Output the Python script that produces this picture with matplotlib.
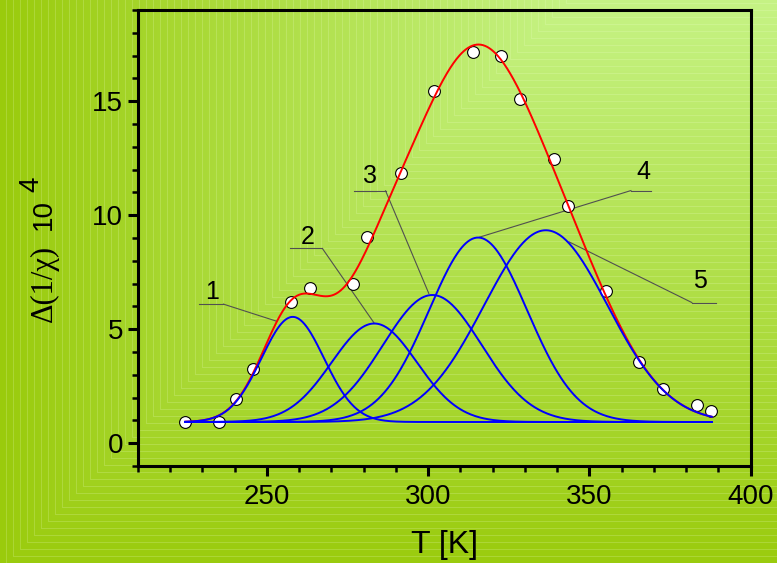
import numpy as np
import matplotlib
matplotlib.use('Agg')
import matplotlib.pyplot as plt
from matplotlib.ticker import MultipleLocator
from matplotlib.transforms import IdentityTransform

# 实验点 (T, Δ(1/χ)·10^4)
t_points = [224.7, 235.0, 240.3, 245.6, 257.4, 263.3, 276.6, 281.0, 291.5, 301.7,
            313.9, 322.6, 328.5, 339.0, 343.4, 355.2, 365.5, 372.9, 383.5, 387.8]
y_points = [0.92, 0.92, 1.93, 3.25, 6.18, 6.80, 6.97, 9.05, 11.83, 15.44,
            17.15, 17.00, 15.10, 12.45, 10.40, 6.67, 3.55, 2.37, 1.67, 1.40]

# 五个高斯分量
baseline = 0.93
centers = [258.0, 283.3, 301.3, 315.5, 336.5]
amps = [4.61, 4.32, 5.57, 8.09, 8.41]
widths = [9.7, 13.2, 15.3, 15.2, 19.2]
t_start, t_end = 224.7, 388.0

# 标注 1-5
label_names = ['1', '2', '3', '4', '5']
label_x = [232.9, 262.6, 282.1, 366.9, 384.3]
label_y = [6.62, 9.04, 11.71, 11.89, 7.12]
shelf_x0 = [228.8, 257.1, 277.0, 362.9, 381.8]
shelf_x1 = [236.5, 267.2, 286.8, 369.1, 389.3]
shelf_y = [6.10, 8.54, 11.07, 11.08, 6.17]
joint_x = [236.5, 267.2, 286.8, 362.9, 381.8]
tip_x = [253.0, 283.2, 300.2, 316.0, 343.7]
tip_y = [5.35, 5.28, 6.57, 9.04, 8.83]

W, H = 777, 563
fig = plt.figure(figsize=(W / 100, H / 100), dpi=100)

# 背景: 矩形渐变 + 浅色条纹
yy, xx = np.mgrid[0:H, 0:W] + 0.5
d = np.maximum(np.abs(xx - 777), np.abs(yy + 207))
t = np.clip((d - 207) / (777 - 207), 0, 1)[..., None]
light = np.array([198, 243, 133]) / 255
dark = np.array([154, 203, 12]) / 255
img = light * (1 - t) + dark * t
stripe = ((d % 7.0) < 1.0)[..., None]
img = np.where(stripe, img * 0.8 + np.array([0.93, 1.0, 0.8]) * 0.2, img)
fig.figimage(img, xo=0, yo=0, zorder=-10)

ax = fig.add_axes([138 / W, 97 / H, 612.5 / W, 456 / H])
ax.set_facecolor('none')
ax.set_zorder(5)

# 数据点
ax.plot(t_points, y_points, 'o', ms=8.5, mfc='white', mec='black', mew=0.8, zorder=2)

tt = np.linspace(t_start, t_end, 500)
comps = [a * np.exp(-(tt - c) ** 2 / (2 * s ** 2)) for c, a, s in zip(centers, amps, widths)]
ax.plot(tt, baseline + np.sum(comps, axis=0), color='red', lw=1.4, zorder=3)
for comp in comps:
    ax.plot(tt, baseline + comp, color='blue', lw=1.4, zorder=4)

for i in range(5):
    ax.plot([shelf_x0[i], shelf_x1[i]], [shelf_y[i], shelf_y[i]], color='#505050', lw=0.8, zorder=1)
    ax.plot([joint_x[i], tip_x[i]], [shelf_y[i], tip_y[i]], color='#505050', lw=0.8, zorder=1)
    ax.text(label_x[i], label_y[i], label_names[i], fontsize=18, family='Liberation Sans',
            ha='center', va='center')

ax.set_xlim(210, 400)
ax.set_ylim(-1, 19)
ax.xaxis.set_major_locator(MultipleLocator(50))
ax.xaxis.set_minor_locator(MultipleLocator(10))
ax.yaxis.set_major_locator(MultipleLocator(5))
ax.yaxis.set_minor_locator(MultipleLocator(1))

for sp in ax.spines.values():
    sp.set_linewidth(2.2)
ax.tick_params(which='major', direction='out', length=7.2, width=2.2, labelsize=20)
ax.tick_params(which='minor', direction='out', length=4.5, width=1.8)
ax.tick_params(axis='x', pad=6)
ax.tick_params(axis='y', pad=3.5)
for lab in ax.get_xticklabels() + ax.get_yticklabels():
    lab.set_family('Liberation Sans')

ax.set_xlabel('T [K]', fontsize=23, family='Liberation Sans', labelpad=14)

# y 轴标签 (分段写)
fig.text(44, H - 283, 'Δ(1/χ)', rotation=90, fontsize=22, family='Liberation Serif',
         ha='center', va='center', transform=IdentityTransform())
fig.text(44, H - 214, '10', rotation=90, fontsize=20, family='Liberation Sans',
         ha='center', va='center', transform=IdentityTransform())
fig.text(31.5, H - 184, '4', rotation=90, fontsize=20, family='Liberation Sans',
         ha='center', va='center', transform=IdentityTransform())

fig.savefig('out.png', dpi=100)
